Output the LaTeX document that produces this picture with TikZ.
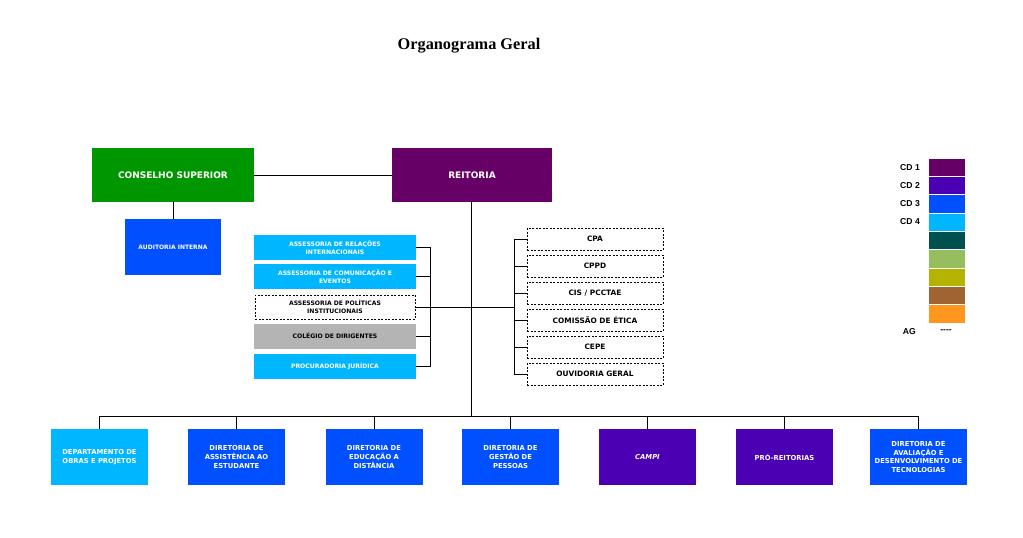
\documentclass[tikz,border=0pt]{standalone}
\usepackage{fontspec}
\setmainfont{DejaVu Sans}
\newfontfamily\titlefont{Liberation Serif}
\newfontfamily\legfont{Liberation Sans}
\definecolor{cdA}{RGB}{102,0,102}
\definecolor{cdB}{RGB}{75,0,180}
\definecolor{cdC}{RGB}{0,80,255}
\definecolor{cdD}{RGB}{0,182,255}
\definecolor{cdE}{RGB}{0,80,80}
\definecolor{cdF}{RGB}{150,190,95}
\definecolor{cdG}{RGB}{180,180,0}
\definecolor{cdH}{RGB}{160,100,50}
\definecolor{cdI}{RGB}{255,150,30}
\definecolor{csgreen}{RGB}{0,150,0}
\definecolor{colgray}{RGB}{180,180,180}
\tikzset{
  box/.style={rectangle, inner sep=1pt, align=center, font=\bfseries, text=white},
  bigbox/.style={box, minimum width=162pt, minimum height=54pt, font=\bfseries\fontsize{9}{11}\selectfont},
  assbox/.style={box, minimum width=162pt, minimum height=25pt, text width=158pt, font=\bfseries\fontsize{6.1}{7.6}\selectfont},
  dashbox/.style={box, draw=black, dashed, line width=0.9pt, dash pattern=on 2pt off 1.5pt, fill=white, text=black, minimum width=136pt, minimum height=22pt, font=\bfseries\fontsize{7.4}{8.5}\selectfont},
  botbox/.style={box, minimum width=97pt, minimum height=56pt, text width=95pt, font=\bfseries\fontsize{6.8}{8.6}\selectfont},
  conn/.style={draw=black, line width=0.8pt},
  swatch/.style={rectangle, draw=white, line width=0.4pt, minimum width=37pt, minimum height=18.3pt, inner sep=0pt},
  leg/.style={font=\legfont\bfseries\fontsize{8.6}{10}\selectfont, anchor=east, inner sep=0pt}
}
\begin{document}
\begin{tikzpicture}[x=1pt,y=-1pt]
\useasboundingbox[fill=white] (0,0) rectangle (1023,538);
\node[font=\titlefont\bfseries\fontsize{16.3}{19}\selectfont] (title) at (469,46) {Organograma Geral};

% top boxes
\node[bigbox, fill=csgreen] (cs) at (173,175) {CONSELHO SUPERIOR};
\node[bigbox, fill=cdA, minimum width=160pt] (rei) at (472,175) {REITORIA};
\node[box, fill=cdC, minimum width=96pt, minimum height=56pt, font=\bfseries\fontsize{6}{7.5}\selectfont] (aud) at (173,247) {AUDITORIA INTERNA};
\draw[conn] (cs.east) -- (rei.west);
\draw[conn] (cs.south) -- (aud.north);

% left assessorias
\node[assbox, fill=cdD] (ari) at (335,247.5) {ASSESSORIA DE RELAÇÕES\\INTERNACIONAIS};
\node[assbox, fill=cdD] (ace) at (335,276.5) {ASSESSORIA DE COMUNICAÇÃO E\\EVENTOS};
\node[assbox, draw=black, dashed, line width=0.9pt, dash pattern=on 2pt off 1.5pt, fill=white, text=black, minimum width=160pt, minimum height=24pt] (api) at (335,307) {ASSESSORIA DE POLÍTICAS\\INSTITUCIONAIS};
\node[assbox, fill=colgray, text=black] (cdi) at (335,336) {COLÉGIO DE DIRIGENTES};
\node[assbox, fill=cdD] (pj) at (335,366.5) {PROCURADORIA JURÍDICA};
\coordinate (lb) at (430,307);
\draw[conn] (ari.east) -| (lb);
\draw[conn] (pj.east) -| (lb);
\draw[conn] (ace.east) -- (ace.east -| lb);
\draw[conn] (cdi.east) -- (cdi.east -| lb);

% right dashed boxes
\node[dashbox] (cpa) at (595,239) {CPA};
\node[dashbox] (cppd) at (595,266) {CPPD};
\node[dashbox] (cis) at (595,293) {CIS / PCCTAE};
\node[dashbox] (cet) at (595,320) {COMISSÃO DE ÉTICA};
\node[dashbox] (cepe) at (595,347) {CEPE};
\node[dashbox] (ouv) at (595,374) {OUVIDORIA GERAL};
\coordinate (rb) at (514,307);
\draw[conn] (cpa.west) -| (rb);
\draw[conn] (ouv.west) -| (rb);
\draw[conn] (cppd.west) -- (cppd.west -| rb);
\draw[conn] (cis.west) -- (cis.west -| rb);
\draw[conn] (cet.west) -- (cet.west -| rb);
\draw[conn] (cepe.west) -- (cepe.west -| rb);
\draw[conn] (api.east) -- (api.east -| rb);

% bottom row
\coordinate (bus) at (471,416);
\draw[conn] (rei.south -| bus) -- (bus);
\node[botbox, fill=cdD] (dop) at (99.5,457) {DEPARTAMENTO DE\\OBRAS E PROJETOS};
\node[botbox, fill=cdC] (dae) at (236.5,457) {DIRETORIA DE\\ASSISTÊNCIA AO\\ESTUDANTE};
\node[botbox, fill=cdC] (ded) at (374,457) {DIRETORIA DE\\EDUCAÇÃO A\\DISTÂNCIA};
\node[botbox, fill=cdC] (dgp) at (510.5,457) {DIRETORIA DE\\GESTÃO DE\\PESSOAS};
\node[botbox, fill=cdB] (cam) at (647.5,457) {\itshape CAMPI};
\node[botbox, fill=cdB] (pro) at (784.5,457) {PRÓ-REITORIAS};
\node[botbox, fill=cdC] (dad) at (918.5,457) {DIRETORIA DE\\AVALIAÇÃO E\\DESENVOLVIMENTO DE\\TECNOLOGIAS};
\draw[conn] (dop.north) -- (dop.north |- bus) -- (dad.north |- bus) -- (dad.north);
\foreach \b in {dae,ded,dgp,cam,pro}{\draw[conn] (\b.north) -- (\b.north |- bus);}

% legend
\foreach \c [count=\i] in {cdA,cdB,cdC,cdD,cdE,cdF,cdG,cdH,cdI}{
  \node[swatch, fill=\c] (sw\i) at (946.5,{158+9.15+18.3*(\i-1)}) {};
}
\node[leg] (l1) at (920,167.5) {CD 1};
\node[leg] (l2) at (920,185.5) {CD 2};
\node[leg] (l3) at (920,203.5) {CD 3};
\node[leg] (l4) at (920,221.5) {CD 4};
\node[leg] (lag) at (916,332) {AG};
\node[leg, anchor=center] (ldash) at (946,331) {-{}-{}-{}-};
\end{tikzpicture}
\end{document}
